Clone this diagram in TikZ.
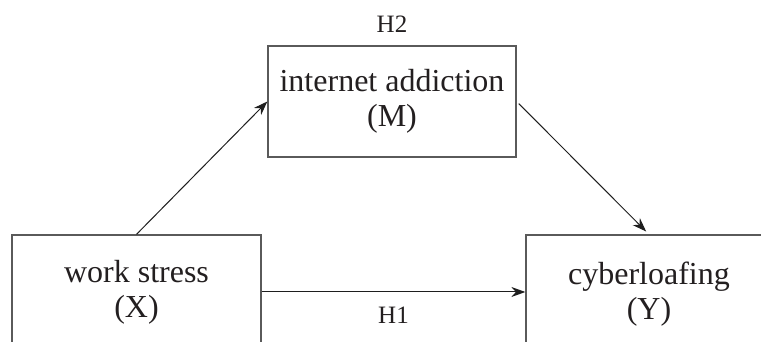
\documentclass[tikz,border=0pt]{standalone}
\usepackage{fontspec}
\setmainfont{Liberation Serif}
\usetikzlibrary{arrows.meta,positioning}
\begin{document}
\begin{tikzpicture}[x=1pt,y=1pt,
  varbox/.style={draw=boxColor,line width=1.3pt,inner sep=0pt,align=center,
    text=textColor,font=\fontsize{32}{35}\selectfont},
  vartext/.style={inner sep=0pt,align=center,text=textColor,font=\fontsize{32}{35}\selectfont},
  hyplabel/.style={text=textColor,inner sep=0pt,font=\fontsize{25}{28}\selectfont},
  path/.style={draw=arrowColor,line width=1pt,-{Stealth[length=14pt,width=10pt]}}]
\definecolor{boxColor}{RGB}{90,90,90}
\definecolor{arrowColor}{RGB}{30,30,30}
\definecolor{textColor}{RGB}{35,31,32}
\path[use as bounding box,fill=white] (0,0) rectangle (761,342);
\clip (0,0) rectangle (761,342);

% variables
\node[varbox,minimum width=249,minimum height=114] (X) at (136.5,50) {work stress\\(X)};
\node[varbox,minimum width=248,minimum height=111] (M) at (392,240.5) {internet addiction\\(M)};
\node[varbox,minimum width=290,minimum height=114] (Y) at (671,50) {};
\node[vartext] (Ytext) at (649,48) {cyberloafing\\(Y)};

\node[hyplabel,above=13pt of M] (h2) {H2};

% paths
\draw[path] (X.north) -- (M.west);
\draw[path,shorten <=3pt,shorten >=4pt] (M.east) -- (Ytext |- Y.north);
\draw[path] (X.east) -- node[hyplabel,below=14pt] (h1) {H1} (Y.west);
\end{tikzpicture}
\end{document}
